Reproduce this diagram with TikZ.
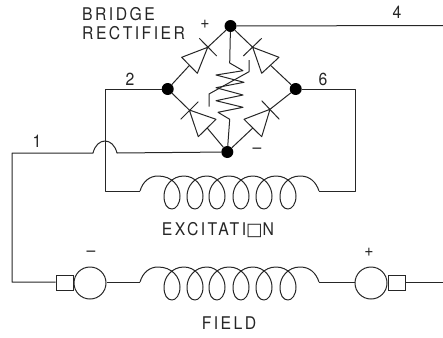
\documentclass[tikz,border=0pt]{standalone}
\usepackage{fontspec}
\setmainfont[LetterSpace=14,FakeStretch=0.9]{TeX Gyre Heros}
\newfontfamily\symfont{DejaVu Sans}
\tikzset{
  wire/.style={line width=1pt,black!85,line join=round},
  dot/.style={circle,fill=black,inner sep=0pt,minimum size=12pt},
  lbl/.style={inner sep=0pt,font=\fontsize{17.5}{18}\selectfont,black!85},
  machine/.style={circle,draw=black!85,line width=1pt,minimum size=32pt,inner sep=0pt},
  brush/.style={draw=black!85,line width=1pt,minimum width=17pt,minimum height=15pt,inner sep=0pt}
}
\newcommand{\coil}[1]{%
 \draw[wire,shift={(0,#1)}] (140,191) .. controls (143,181) and (150,176) .. (158,176)
 \foreach \x in {172,195,217,241,264,288}{
   .. controls (\x,176) and (\x+8,186) .. (\x+8,196)
   .. controls (\x+8,204) and (\x+4,209) .. (\x,209)
   .. controls (\x-5,209) and (\x-8,204) .. (\x-8,196)
   .. controls (\x-8,186) and (\x,176) .. (\x+12,176)
 }
 .. controls (310,176) and (316,182) .. (319,191);}
\begin{document}
\begin{tikzpicture}[x=1pt,y=-1pt]
\useasboundingbox (0,0) rectangle (443,337);
\node[dot] (T) at (230.5,26) {};
\node[dot] (L) at (167.7,89) {};
\node[dot] (R) at (295.7,89) {};
\node[dot] (B) at (227.3,152) {};
\coordinate (E4) at (443,25.5);
\draw[wire] (T) -- (E4);
\node[lbl] (n4) at (397,12) {4};
\node[lbl] (n2) at (130,79) {2};
\node[lbl] (n6) at (323,79) {6};
\node[lbl] (n1) at (37,141) {1};
\node[lbl,anchor=base west] (br1) at (82,21) {BRIDGE};
\node[lbl,anchor=base west] (br2) at (82,40) {RECTIFIER};
\node[lbl] (pl) at (205,24) {+};
\node[lbl] (mi) at (257,151) {--};
\node[lbl,anchor=base] (ex) at (218,235) {EXCITATI{\symfont □}N};
\node[lbl,anchor=base] (fi) at (229,329) {FIELD};
\node[lbl] (m2) at (91,254) {--};
\node[lbl] (p2) at (369,252) {+};
% diodes
\draw[wire] (181.7,57.3)--(197.3,73.3)--(207.7,47.3)--cycle (199.3,38.3)--(216.7,56);
\draw[wire] (L)--(189.5,65.3) (207.7,47.3)--(T);
\draw[wire] (279,57.3)--(261.7,73.3)--(252.7,47.3)--cycle (261.7,38.3)--(243.3,56);
\draw[wire] (R)--(270.5,65.3) (252.7,47.3)--(T);
\draw[wire] (189.3,110)--(216,119.3)--(198.3,136.7)--cycle (198.3,101.7)--(180.7,119.3);
\draw[wire] (L)--(189.3,110) (207.2,128)--(B);
\draw[wire] (270,109.3)--(244,119.3)--(261.7,136.7)--cycle (261.7,100.7)--(279.3,119.3);
\draw[wire] (R)--(270,109.3) (252.8,128)--(B);
% resistor
\draw[wire] (T)--(229.7,63)--(243,70.7)--(216,75)--(244,82.3)--(216,87.7)--(243,95)--(216,100.7)--(243,107.3)--(218,112.3)--(229.7,119.3)--(B);
\draw[wire] (209,106.7)--(209,94)--(249,71.7)--(249,60);
% circuit wires
\coordinate (c1) at (105,191);\coordinate (c2) at (319,191);
\draw[wire] (L)--(105,89)--(c1)--(140,191);
\draw[wire] (R)--(355,89)--(355,191)--(c2);
\coil{0}
\coil{91}
\node[machine] (M1) at (90,283) {};
\node[machine] (M2) at (371,283) {};
\node[brush,anchor=east] (b1) at (M1.west) {};
\node[brush,anchor=west] (b2) at (M2.east) {};
\draw[wire] (B)--(117,153) .. controls (115,145) and (110,141) .. (105,141) .. controls (100,141) and (95,145) .. (93,153) -- (12,153) -- (12,282) -- (b1.west |- 0,282);
\draw[wire] (M1.east |- 0,282) -- (140,282);
\draw[wire] (319,282) -- (M2.west |- 0,282);
\coordinate (E5) at (443,282);
\draw[wire] (b2.east |- 0,282) -- (E5);
\end{tikzpicture}
\end{document}
